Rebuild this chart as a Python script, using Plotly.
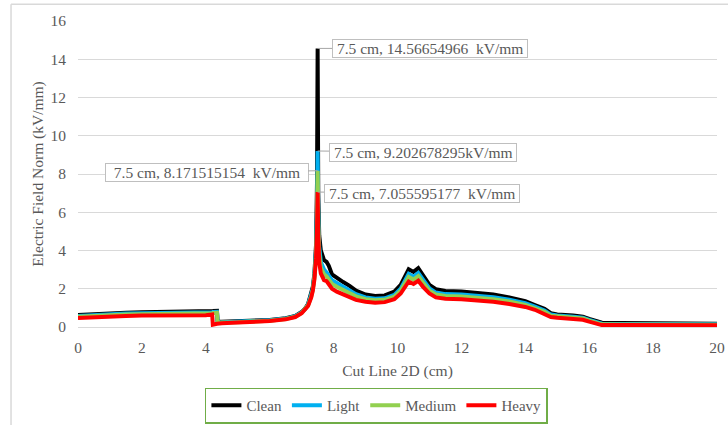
import plotly.graph_objects as go

x_cm = [0, 0.5, 1, 1.5, 2, 2.5, 3, 3.5, 4, 4.2, 4.22, 4.35, 4.37, 4.5, 5, 5.5, 6, 6.5, 6.8, 7.0,
        7.1, 7.2, 7.3, 7.35, 7.4, 7.45, 7.48, 7.5, 7.52, 7.55, 7.6, 7.7, 7.78, 7.85, 7.95, 8.1,
        8.3, 8.5, 8.7, 9.0, 9.3, 9.6, 9.9, 10.1, 10.25, 10.35, 10.5, 10.65, 10.8, 11.0, 11.2,
        11.5, 12, 12.5, 13, 13.5, 14, 14.3, 14.6, 14.8, 15.0, 15.5, 15.8, 16.0, 16.2, 16.4,
        17, 18, 19, 20]

clean = [0.63, 0.68, 0.72, 0.75, 0.77, 0.78, 0.78, 0.78, 0.80, 0.83, 0.84, 0.85, 0.27, 0.27,
         0.29, 0.32, 0.37, 0.46, 0.58, 0.78, 0.95, 1.2, 1.7, 2.1, 2.8, 4.3, 7.5, 14.56654966,
         7.0, 4.8, 4.0, 3.5, 3.4, 3.2, 2.75, 2.55, 2.35, 2.15, 1.9, 1.7, 1.62, 1.65, 1.85, 2.2,
         2.7, 3.02, 2.88, 3.08, 2.7, 2.2, 1.98, 1.88, 1.85, 1.78, 1.7, 1.55, 1.35, 1.15, 0.95,
         0.72, 0.66, 0.6, 0.54, 0.42, 0.3, 0.22, 0.21, 0.2, 0.19, 0.17]

light = [0.58, 0.63, 0.67, 0.70, 0.72, 0.72, 0.72, 0.72, 0.74, 0.77, 0.78, 0.79, 0.24, 0.25,
         0.27, 0.30, 0.35, 0.44, 0.56, 0.76, 0.92, 1.16, 1.65, 2.0, 2.7, 4.0, 6.0, 9.202678295,
         6.0, 4.2, 3.4, 3.0, 2.85, 2.7, 2.45, 2.3, 2.1, 1.92, 1.72, 1.55, 1.48, 1.5, 1.68, 2.0,
         2.5, 2.78, 2.63, 2.83, 2.48, 2.02, 1.8, 1.72, 1.7, 1.63, 1.55, 1.42, 1.24, 1.06, 0.86,
         0.65, 0.6, 0.54, 0.48, 0.37, 0.25, 0.17, 0.16, 0.15, 0.15, 0.14]

medium = [0.53, 0.58, 0.62, 0.65, 0.67, 0.67, 0.67, 0.67, 0.69, 0.72, 0.73, 0.74, 0.21, 0.23,
          0.25, 0.28, 0.33, 0.42, 0.54, 0.74, 0.9, 1.13, 1.6, 1.95, 2.6, 3.8, 5.5, 8.171515154,
          5.4, 3.8, 3.1, 2.75, 2.65, 2.5, 2.25, 2.1, 1.92, 1.76, 1.6, 1.45, 1.4, 1.42, 1.58, 1.9,
          2.35, 2.62, 2.48, 2.66, 2.32, 1.9, 1.7, 1.62, 1.6, 1.53, 1.45, 1.33, 1.16, 0.98, 0.79,
          0.59, 0.55, 0.5, 0.44, 0.33, 0.21, 0.14, 0.13, 0.13, 0.12, 0.12]

heavy = [0.47, 0.52, 0.56, 0.58, 0.60, 0.60, 0.60, 0.60, 0.62, 0.66, 0.12, 0.17, 0.18, 0.20,
         0.23, 0.26, 0.31, 0.40, 0.52, 0.72, 0.88, 1.1, 1.55, 1.9, 2.5, 3.6, 5.0, 7.055595177,
         4.8, 3.4, 2.8, 2.45, 2.4, 2.25, 2.0, 1.85, 1.7, 1.55, 1.42, 1.32, 1.27, 1.3, 1.45, 1.75,
         2.15, 2.38, 2.25, 2.42, 2.1, 1.75, 1.55, 1.48, 1.45, 1.4, 1.32, 1.2, 1.05, 0.9, 0.7,
         0.52, 0.48, 0.43, 0.38, 0.28, 0.17, 0.1, 0.1, 0.1, 0.1, 0.09]

series_names = ["Clean", "Light", "Medium", "Heavy"]
series_values = [clean, light, medium, heavy]
series_colors = ["#000000", "#00B0F0", "#92D050", "#FF0000"]

callout_texts = ["7.5 cm, 14.56654966\u00a0 kV/mm", "7.5 cm, 9.202678295kV/mm",
                 "7.5 cm, 8.171515154\u00a0 kV/mm", "7.5 cm, 7.055595177\u00a0 kV/mm"]
callout_x = [7.5, 7.5, 7.5, 7.5]
callout_y = [14.56654966, 9.202678295, 8.171515154, 7.055595177]
callout_offsets = [(112, 0), (105, 1), (-111, 2), (104, 1)]

FONT = "Liberation Serif"
GREY = "#595959"

fig = go.Figure()
for name, vals, col in zip(series_names, series_values, series_colors):
    fig.add_trace(go.Scatter(x=x_cm, y=vals, mode="lines", name=name,
                             line=dict(color=col, width=4)))

for i, (txt, xv, yv, (ax, ay)) in enumerate(zip(callout_texts, callout_x, callout_y, callout_offsets)):
    pad = "\u00a0\u00a0" if i == 2 else "\u00a0"
    fig.add_annotation(x=xv, y=yv, text=pad + txt + pad, showarrow=True,
                       arrowhead=0, arrowwidth=1,
                       arrowcolor="#A6A6A6", ax=ax, ay=ay, bgcolor="white",
                       bordercolor="#BFBFBF", borderwidth=1, borderpad=0,
                       font=dict(family=FONT, size=15.5, color=GREY))

# outer chart border (left and top edges visible)
fig.add_shape(type="line", xref="paper", yref="paper", x0=-0.1048, x1=1.02,
              y0=1.0545, y1=1.0545, line=dict(color="#D9D9D9", width=1.5))
fig.add_shape(type="line", xref="paper", yref="paper", x0=-0.1048, x1=-0.1048,
              y0=1.0545, y1=-0.32, line=dict(color="#D9D9D9", width=1.5))

fig.update_layout(
    width=728, height=425,
    margin=dict(l=78, r=11, t=21, b=98, autoexpand=False),
    paper_bgcolor="white", plot_bgcolor="white",
    font=dict(family=FONT, size=15.5, color=GREY),
    showlegend=True,
    legend=dict(orientation="h", x=0.467, xanchor="center", y=-0.198, yanchor="top",
                bordercolor="#70AD47", borderwidth=1.5, bgcolor="white",
                font=dict(family=FONT, size=15, color=GREY),
                itemwidth=30, tracegroupgap=0),
    xaxis=dict(range=[0, 20], tickvals=list(range(0, 21, 2)), showgrid=False,
               zeroline=False, showline=False, ticks="", automargin=False,
               ticklabelstandoff=9,
               title=dict(text="Cut Line 2D (cm)", font=dict(family=FONT, size=15.5, color=GREY),
                          standoff=10),
               tickfont=dict(family=FONT, size=15.5, color=GREY)),
    yaxis=dict(range=[0, 16], tickvals=list(range(0, 17, 2)), showgrid=True,
               gridcolor="#D9D9D9", gridwidth=1, zeroline=True, zerolinecolor="#D9D9D9",
               zerolinewidth=1, showline=False, ticks="", automargin=False,
               ticklabelstandoff=11,
               title=dict(text="Electric Field Norm (kV/mm)",
                          font=dict(family=FONT, size=15.5, color=GREY), standoff=3),
               tickfont=dict(family=FONT, size=15.5, color=GREY)),
)

fig.write_html("out.html", post_script="document.body.style.margin='0';",
               config={"displayModeBar": False})
